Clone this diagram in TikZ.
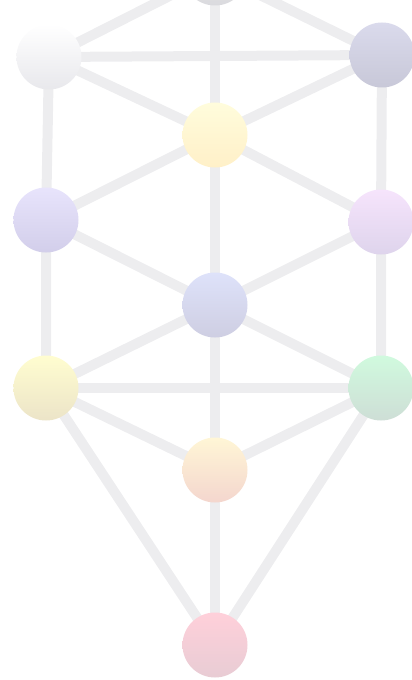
\documentclass[tikz,border=0pt]{standalone}
\usepackage{tikz}
\usetikzlibrary{backgrounds}

\definecolor{linkgray}{RGB}{237,237,239}

\begin{document}
\begin{tikzpicture}[x=0.03cm, y=-0.03cm,
  link/.style={linkgray, line width=0.3cm},
  sphere/.style={circle, minimum size=1.95cm, inner sep=0pt}]

  \useasboundingbox (0,0) rectangle (411,680);

  % spheres
  \node (keter) [sphere, top color={rgb,255:red,236;green,236;blue,238}, bottom color={rgb,255:red,218;green,218;blue,222}] at (215,-27) {};
  \node (binah) [sphere, top color=white, bottom color={rgb,255:red,232;green,232;blue,236}] at (49,57) {};
  \node (chokmah) [sphere, top color={rgb,255:red,218;green,218;blue,236}, bottom color={rgb,255:red,200;green,200;blue,216}] at (382,55) {};
  \node (daat) [sphere, top color={rgb,255:red,255;green,252;blue,220}, bottom color={rgb,255:red,255;green,240;blue,200}] at (215,135) {};
  \node (geburah) [sphere, top color={rgb,255:red,232;green,228;blue,252}, bottom color={rgb,255:red,210;green,206;blue,234}] at (46,220) {};
  \node (chesed) [sphere, top color={rgb,255:red,246;green,228;blue,252}, bottom color={rgb,255:red,222;green,212;blue,236}] at (381,222) {};
  \node (tiphareth) [sphere, top color={rgb,255:red,222;green,226;blue,250}, bottom color={rgb,255:red,206;green,206;blue,226}] at (215,305) {};
  \node (hod) [sphere, top color={rgb,255:red,255;green,253;blue,208}, bottom color={rgb,255:red,236;green,228;blue,200}] at (46,388) {};
  \node (netzach) [sphere, top color={rgb,255:red,208;green,250;blue,222}, bottom color={rgb,255:red,206;green,222;blue,214}] at (381,388) {};
  \node (yesod) [sphere, top color={rgb,255:red,255;green,246;blue,214}, bottom color={rgb,255:red,244;green,214;blue,206}] at (215,470) {};
  \node (malkuth) [sphere, top color={rgb,255:red,255;green,208;blue,218}, bottom color={rgb,255:red,232;green,204;blue,212}] at (215,645) {};

  % paths, behind the spheres
  \begin{scope}[on background layer]
    % pillars
    \draw [link] (binah.center) -- (geburah.center) -- (hod.center);
    \draw [link] (chokmah.center) -- (chesed.center) -- (netzach.center);
    \draw [link] (keter.center) -- (daat.center) -- (tiphareth.center) -- (yesod.center) -- (malkuth.center);

    % horizontals
    \draw [link] (binah.center) -- (chokmah.center);
    \draw [link] (hod.center) -- (netzach.center);

    % diagonals
    \draw [link] (binah.center) -- (keter.center) -- (chokmah.center);
    \draw [link] (binah.center) -- (daat.center) -- (chokmah.center);
    \draw [link] (geburah.center) -- (daat.center) -- (chesed.center);
    \draw [link] (geburah.center) -- (tiphareth.center) -- (chesed.center);
    \draw [link] (hod.center) -- (tiphareth.center) -- (netzach.center);
    \draw [link] (hod.center) -- (yesod.center) -- (netzach.center);
    \draw [link] (hod.center) -- (malkuth.center) -- (netzach.center);
  \end{scope}

\end{tikzpicture}
\end{document}
